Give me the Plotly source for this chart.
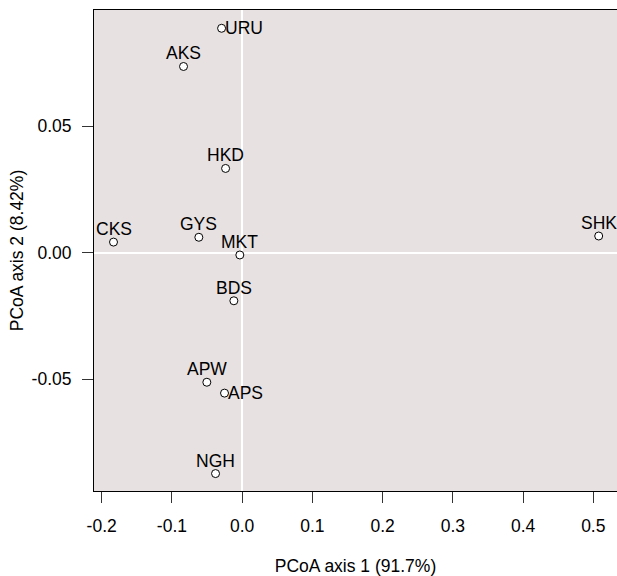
import plotly.graph_objects as go

sites = ["URU", "AKS", "HKD", "CKS", "GYS", "MKT", "BDS", "APW", "APS", "NGH", "SHK"]
axis1 = [-0.0293, -0.0835, -0.0236, -0.1832, -0.0617, -0.0033, -0.0118, -0.0503, -0.0251, -0.0379, 0.5077]
axis2 = [0.0887, 0.0736, 0.0333, 0.0042, 0.0061, -0.0009, -0.0190, -0.0512, -0.0555, -0.0873, 0.0066]
label_side = ["right", "top", "top", "top", "top", "top", "top", "top", "right", "top", "top"]

x_ticks = [-0.2, -0.1, 0.0, 0.1, 0.2, 0.3, 0.4, 0.5]
x_tick_labels = ["-0.2", "-0.1", "0.0", "0.1", "0.2", "0.3", "0.4", "0.5"]
y_ticks = [-0.05, 0.0, 0.05]
y_tick_labels = ["-0.05", "0.00", "0.05"]

FONT = "Liberation Sans, Arial, sans-serif"
FS = 17.5

fig = go.Figure()
fig.add_trace(go.Scatter(
    x=axis1, y=axis2, mode="markers",
    marker=dict(symbol="circle", size=8, color="white", line=dict(color="black", width=1)),
    hoverinfo="text", text=sites, showlegend=False,
))

for s, x, y, side in zip(sites, axis1, axis2, label_side):
    if side == "top":
        fig.add_annotation(x=x, y=y, text=s, showarrow=False, xanchor="center", yanchor="middle",
                           yshift=13, font=dict(family=FONT, size=FS, color="black"))
    else:
        fig.add_annotation(x=x, y=y, text=s, showarrow=False, xanchor="left", yanchor="middle",
                           xshift=1, yshift=0, font=dict(family=FONT, size=FS, color="black"))

fig.update_layout(
    width=617, height=576,
    margin=dict(l=94, r=0, t=10, b=85),
    paper_bgcolor="white", plot_bgcolor="#E7E1E1",
    font=dict(family=FONT, size=FS, color="black"),
)
fig.update_xaxes(
    range=[-0.21097, 0.53376], tickvals=x_ticks, ticktext=x_tick_labels,
    showgrid=False, zeroline=True, zerolinecolor="white", zerolinewidth=1.5,
    showline=True, linecolor="black", linewidth=1, mirror=True,
    ticks="outside", ticklen=11, tickwidth=1, tickcolor="#333333",
    tickfont=dict(family=FONT, size=FS), ticklabelstandoff=8,
    title=dict(text="PCoA axis 1 (91.7%)", font=dict(family=FONT, size=FS), standoff=25),
)
fig.update_yaxes(
    range=[-0.09419, 0.09593], tickvals=y_ticks, ticktext=y_tick_labels,
    showgrid=False, zeroline=True, zerolinecolor="white", zerolinewidth=1.5,
    showline=True, linecolor="black", linewidth=1, mirror=False,
    ticks="outside", ticklen=11, tickwidth=1, tickcolor="#333333",
    tickfont=dict(family=FONT, size=FS), ticklabelstandoff=7,
    title=dict(text="PCoA axis 2 (8.42%)", font=dict(family=FONT, size=FS), standoff=3),
)

fig.write_html("out.html", config={"displayModeBar": False},
               post_script="document.body.style.margin='0px';")
